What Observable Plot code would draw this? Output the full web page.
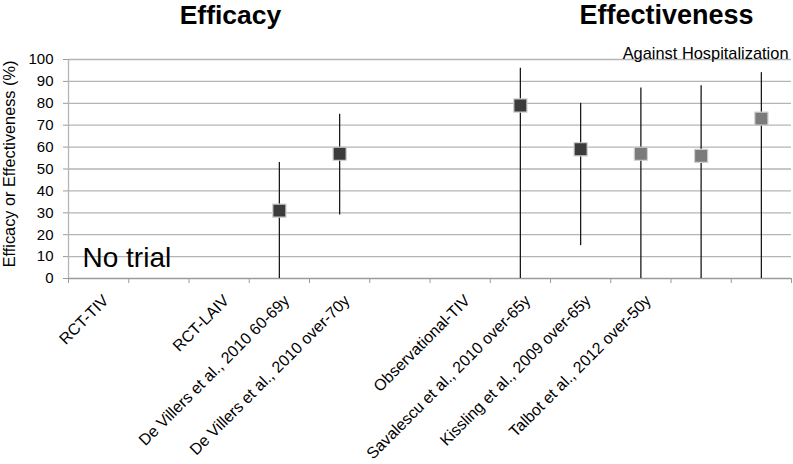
<!DOCTYPE html>
<html>
<head>
<meta charset="utf-8">
<script src="https://cdn.jsdelivr.net/npm/d3@7"></script>
<script src="https://cdn.jsdelivr.net/npm/@observablehq/plot@0.6"></script>
<style>
  html, body { margin: 0; padding: 0; background: #fff; }
  svg { display: block; }
</style>
</head>
<body>
<div id="chart"></div>
<script>
// Categories (empty strings are unlabeled slots on the axis)
const categories = ["RCT-TIV", "", "RCT-LAIV", "De Villers et al., 2010 60-69y", "De Villers et al., 2010 over-70y", "", "Observational-TIV", "Savalescu et al., 2010 over-65y", "Kissling et al., 2009 over-65y", "Talbot et al., 2012 over-50y", "", ""];
const estimates = [null, null, null, 31, 57, null, null, 79, 59, 57, 56, 73];
const lowerCI   = [null, null, null, 0, 29, null, null, 0, 15, 0, 0, 0];
const upperCI   = [null, null, null, 53, 75, null, null, 96, 80, 87, 88, 94];
const outcome   = [null, null, null, "infection", "infection", null, null, "infection", "infection", "hospitalization", "hospitalization", "hospitalization"];
const yTicks = [0, 10, 20, 30, 40, 50, 60, 70, 80, 90, 100];

const rows = categories.map((c, i) => ({
  i, label: c, est: estimates[i], lo: lowerCI[i], hi: upperCI[i], outcome: outcome[i]
}));
const withData = rows.filter(d => d.est != null);
const font = "'Liberation Sans', Arial, sans-serif";

const chart = Plot.plot({
  width: 793,
  height: 464,
  marginLeft: 68,
  marginRight: 2,
  marginTop: 59,
  marginBottom: 186,
  style: { fontFamily: font, background: "#fff", color: "#000" },
  x: { domain: [0, categories.length], axis: null },
  y: { domain: [0, 100], axis: null },
  color: { domain: ["infection", "hospitalization"], range: ["#3b3b3b", "#7b7b7b"] },
  marks: [
    // gridlines
    Plot.ruleY(yTicks.filter(t => t > 0), { stroke: "#b5b5b5", strokeWidth: 1.3 }),
    Plot.ruleY([0], { stroke: "#9a9a9a", strokeWidth: 1.3 }),
    Plot.ruleX([0], { stroke: "#b5b5b5", strokeWidth: 1.3 }),
    // y axis
    Plot.axisY({ ticks: yTicks, tickSize: 5, tickPadding: 10, fontSize: 15, label: null, stroke: "#9a9a9a", fill: "#000", anchor: "left" }),
    // x tick marks at category boundaries
    Plot.axisX({ ticks: d3.range(0, categories.length + 1), tickSize: 5, tickFormat: () => "", label: null, stroke: "#9a9a9a", anchor: "bottom" }),
    // category labels
    Plot.text(rows.filter(d => d.label), {
      x: d => d.i + 0.5, y: () => 0, text: "label",
      rotate: -45, textAnchor: "end", lineAnchor: "top",
      dx: 3, dy: 15, fontSize: 16, fill: "#000"
    }),
    // error bars
    Plot.ruleX(withData, { x: d => d.i + 0.5, y1: "lo", y2: "hi", stroke: "#1a1a1a", strokeWidth: 1.3 }),
    // point estimates
    Plot.dot(withData, {
      x: d => d.i + 0.5, y: "est", symbol: "square", r: 7.4,
      fill: "outcome", stroke: "#cfcfcf", strokeWidth: 1.2
    }),
    // y label
    Plot.text(["Efficacy or Effectiveness (%)"], {
      frameAnchor: "left", rotate: -90, textAnchor: "middle", lineAnchor: "middle",
      dx: -58.5, dy: -5, fontSize: 16.3, fill: "#000"
    }),
    // titles
    Plot.text(["Efficacy"], {
      frameAnchor: "top-left", textAnchor: "middle", lineAnchor: "middle",
      dx: 162, dy: -44, fontSize: 26.5, fontWeight: "bold", fill: "#000"
    }),
    Plot.text(["Effectiveness"], {
      frameAnchor: "top-left", textAnchor: "middle", lineAnchor: "middle",
      dx: 598, dy: -44, fontSize: 27, fontWeight: "bold", fill: "#000"
    }),
    Plot.text(["Against Hospitalization"], {
      frameAnchor: "top-right", textAnchor: "end", lineAnchor: "middle",
      dx: -3, dy: -5.7, fontSize: 16.4, fill: "#000"
    }),
    Plot.text(["No trial"], {
      frameAnchor: "bottom-left", textAnchor: "start", lineAnchor: "middle",
      dx: 14, dy: -20, fontSize: 28, fill: "#000"
    })
  ]
});
document.getElementById("chart").appendChild(chart);
</script>
</body>
</html>
